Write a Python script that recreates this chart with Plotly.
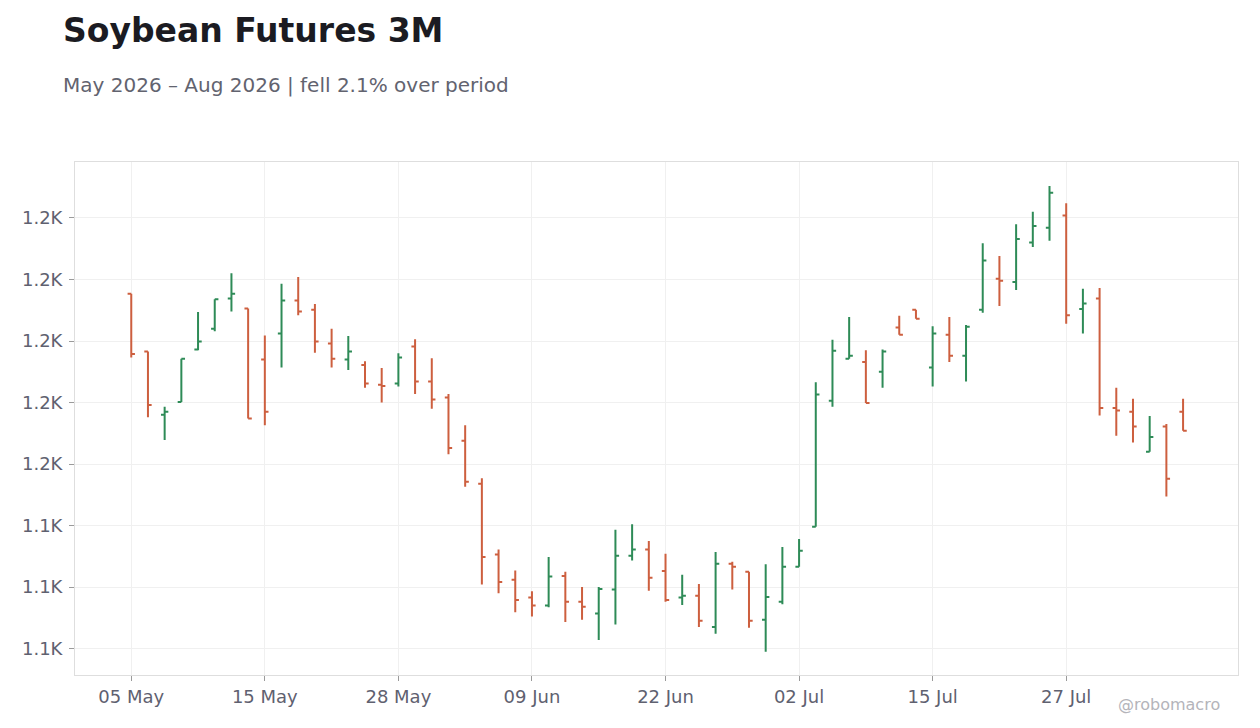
import pandas as pd
import plotly.graph_objects as go

# Trading days shown on the chart (weekends and US holidays skipped)
dates = [
    "2026-05-05", "2026-05-06", "2026-05-07", "2026-05-08", "2026-05-11", "2026-05-12",
    "2026-05-13", "2026-05-14", "2026-05-15", "2026-05-18", "2026-05-19", "2026-05-20",
    "2026-05-21", "2026-05-22", "2026-05-26", "2026-05-27", "2026-05-28", "2026-05-29",
    "2026-06-01", "2026-06-02", "2026-06-03", "2026-06-04", "2026-06-05", "2026-06-08",
    "2026-06-09", "2026-06-10", "2026-06-11", "2026-06-12", "2026-06-15", "2026-06-16",
    "2026-06-17", "2026-06-18", "2026-06-22", "2026-06-23", "2026-06-24", "2026-06-25",
    "2026-06-26", "2026-06-29", "2026-06-30", "2026-07-01", "2026-07-02", "2026-07-06",
    "2026-07-07", "2026-07-08", "2026-07-09", "2026-07-10", "2026-07-13", "2026-07-14",
    "2026-07-15", "2026-07-16", "2026-07-17", "2026-07-20", "2026-07-21", "2026-07-22",
    "2026-07-23", "2026-07-24", "2026-07-27", "2026-07-28", "2026-07-29", "2026-07-30",
    "2026-07-31", "2026-08-03", "2026-08-04", "2026-08-05",
]

open_ = [
    1177.7, 1168.3, 1158.0, 1160.1, 1168.6, 1172.0, 1176.9, 1175.3, 1167.0, 1171.2,
    1176.6, 1175.1, 1169.6, 1167.0, 1166.1, 1162.9, 1163.1, 1169.1, 1163.4, 1160.8,
    1153.8, 1146.8, 1135.3, 1131.2, 1128.3, 1127.0, 1131.8, 1127.6, 1125.7, 1129.6,
    1135.1, 1136.1, 1132.6, 1128.3, 1128.6, 1123.5, 1133.8, 1132.5, 1124.7, 1127.6,
    1133.3, 1139.8, 1160.3, 1167.1, 1166.6, 1165.0, 1172.2, 1175.1, 1165.7, 1171.0,
    1167.6, 1175.1, 1180.1, 1179.6, 1186.0, 1188.4, 1190.4, 1175.2, 1176.9, 1159.1,
    1158.5, 1152.0, 1156.1, 1158.5,
]
high = [
    1177.7, 1168.3, 1159.3, 1167.1, 1174.7, 1176.8, 1181.0, 1175.3, 1170.9, 1179.3,
    1180.4, 1176.0, 1172.0, 1170.8, 1166.7, 1165.6, 1168.0, 1170.3, 1167.2, 1161.4,
    1156.3, 1147.7, 1136.1, 1132.7, 1129.3, 1134.9, 1132.5, 1130.0, 1130.0, 1139.3,
    1140.2, 1137.5, 1135.4, 1132.0, 1130.5, 1135.7, 1134.1, 1132.5, 1133.7, 1136.5,
    1137.8, 1163.3, 1170.2, 1173.9, 1168.5, 1168.6, 1174.1, 1175.1, 1172.4, 1173.9,
    1172.6, 1185.9, 1183.8, 1189.0, 1191.0, 1195.2, 1192.4, 1178.5, 1178.6, 1162.4,
    1160.6, 1157.8, 1156.5, 1160.6,
]
low = [
    1167.3, 1157.6, 1153.9, 1160.1, 1168.5, 1171.6, 1174.8, 1157.4, 1156.3, 1165.7,
    1174.2, 1168.1, 1165.7, 1165.3, 1162.4, 1160.0, 1162.6, 1161.4, 1159.0, 1151.6,
    1146.3, 1130.4, 1129.0, 1125.9, 1125.2, 1126.7, 1124.3, 1124.7, 1121.4, 1123.9,
    1134.3, 1129.4, 1127.6, 1127.1, 1123.5, 1122.4, 1129.6, 1123.4, 1119.5, 1127.2,
    1133.3, 1139.8, 1159.3, 1167.1, 1159.9, 1162.4, 1171.0, 1173.6, 1162.6, 1166.6,
    1163.4, 1174.6, 1175.7, 1178.3, 1185.3, 1186.3, 1172.8, 1171.2, 1157.9, 1154.6,
    1153.5, 1152.0, 1144.7, 1155.4,
]
close = [
    1167.9, 1159.6, 1158.5, 1167.1, 1169.9, 1176.8, 1177.7, 1157.4, 1158.5, 1176.6,
    1174.8, 1169.9, 1167.1, 1168.3, 1163.1, 1162.7, 1167.3, 1163.4, 1160.5, 1152.6,
    1147.1, 1134.9, 1130.8, 1127.9, 1127.0, 1131.7, 1127.6, 1126.8, 1129.7, 1135.1,
    1136.1, 1131.5, 1127.9, 1128.6, 1124.5, 1133.8, 1133.3, 1124.5, 1128.4, 1133.3,
    1135.9, 1161.3, 1168.4, 1167.6, 1159.9, 1168.3, 1171.0, 1173.6, 1171.2, 1167.6,
    1172.3, 1183.1, 1179.8, 1186.6, 1188.7, 1194.1, 1174.2, 1176.1, 1159.1, 1158.7,
    1156.1, 1154.4, 1147.6, 1155.4,
]

y_tickvals = [1120, 1130, 1140, 1150, 1160, 1170, 1180, 1190]
y_ticktext = ["1.1K", "1.1K", "1.1K", "1.2K", "1.2K", "1.2K", "1.2K", "1.2K"]

UP = "#2e8b57"
DOWN = "#cd5f3f"
FONT = "DejaVu Sans"

x_tickvals = dates[::8]
x_ticktext = [pd.Timestamp(d).strftime("%d %b") for d in x_tickvals]

fig = go.Figure()
fig.add_trace(go.Ohlc(
    x=dates, open=open_, high=high, low=low, close=close,
    increasing=dict(line=dict(color=UP, width=2)),
    decreasing=dict(line=dict(color=DOWN, width=2)),
    tickwidth=0.22,
    showlegend=False,
))

# page body adds an 8px offset, so margins are set 8px smaller
fig.update_layout(
    width=1260, height=728,
    margin=dict(l=67, r=30, t=154, b=61),
    paper_bgcolor="white", plot_bgcolor="white",
    font=dict(family=FONT, size=18, color="#5f6170"),
    title=dict(
        text="<b>Soybean Futures 3M</b>",
        font=dict(family=FONT, size=33, color="#1b1b22"),
        xref="container", x=55 / 1260, xanchor="left",
        yref="container", y=1 - 22 / 728, yanchor="middle",
    ),
    annotations=[
        dict(text="May 2026 – Aug 2026 | fell 2.1% over period",
             xref="paper", yref="paper", x=-14 / 1163, y=1 + 77 / 513,
             xanchor="left", yanchor="middle", showarrow=False,
             font=dict(family=FONT, size=20, color="#62636f")),
        dict(text="@robomacro",
             xref="paper", yref="paper", x=(1222 - 75) / 1163, y=-30 / 513,
             xanchor="right", yanchor="middle", showarrow=False,
             font=dict(family=FONT, size=16, color="#b4b4ba")),
    ],
)

fig.update_xaxes(
    type="category", rangeslider_visible=False,
    range=[-3.37, 66.29],
    tickvals=x_tickvals, ticktext=x_ticktext,
    showgrid=True, gridcolor="#f0f0f0", gridwidth=1,
    showline=True, linecolor="#dedede", linewidth=1, mirror=True,
    ticks="outside", ticklen=5, tickcolor="#9a9a9a",
    tickfont=dict(family=FONT, size=18, color="#5f6170"),
)
fig.update_yaxes(
    range=[1115.7, 1199.1],
    tickvals=y_tickvals, ticktext=y_ticktext,
    showgrid=True, gridcolor="#f0f0f0", gridwidth=1,
    showline=True, linecolor="#dedede", linewidth=1, mirror=True,
    ticks="outside", ticklen=5, tickcolor="#9a9a9a", ticklabelstandoff=3,
    tickfont=dict(family=FONT, size=18, color="#5f6170"),
    zeroline=False,
)

fig.write_html("out.html")
